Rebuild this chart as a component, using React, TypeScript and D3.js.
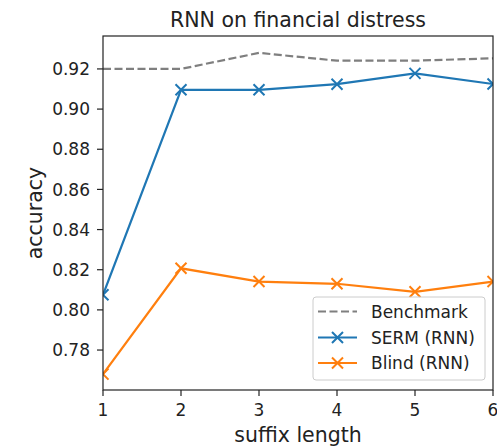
import React from "react";
import * as d3 from "d3";

const suffixLengths = [1, 2, 3, 4, 5, 6];
const benchmark = [0.92, 0.92, 0.928, 0.9241, 0.9241, 0.9253];
const serm = [0.8075, 0.9096, 0.9096, 0.9124, 0.9178, 0.9125];
const blind = [0.768, 0.8207, 0.8141, 0.813, 0.809, 0.8141];
const yTicks = [0.78, 0.8, 0.82, 0.84, 0.86, 0.88, 0.9, 0.92];

const W = 497, H = 447;
const L = 103, R = 493, T = 36, B = 390;
const FONT = "DejaVu Sans, sans-serif";

export default function App() {
  const x = d3.scaleLinear().domain([1, 6]).range([L, R]);
  const y = d3.scaleLinear().domain([0.7601, 0.9364]).range([B, T]);
  const line = d3.line<number>().x((_, i) => x(suffixLengths[i])).y((d) => y(d));
  const cross = (cx: number, cy: number, c: string, k: string) => (
    <path key={k} d={`M${cx - 5.5},${cy - 5.5}L${cx + 5.5},${cy + 5.5}M${cx - 5.5},${cy + 5.5}L${cx + 5.5},${cy - 5.5}`} stroke={c} strokeWidth={2} fill="none" />
  );
  const blue = "#1f77b4", orange = "#ff7f0e", gray = "#7f7f7f";
  return (
    <svg width={W} height={H} style={{ position: "absolute", left: 0, top: 0 }} fontFamily={FONT}>
      <rect width={W} height={H} fill="#fff" />
      <defs>
        <clipPath id="clip"><rect x={L} y={T} width={R - L} height={B - T} /></clipPath>
      </defs>
      <g clipPath="url(#clip)">
        <path d={line(benchmark) || ""} stroke={gray} strokeWidth={2.2} strokeDasharray="8,3.5" fill="none" />
        <path d={line(serm) || ""} stroke={blue} strokeWidth={2.2} fill="none" />
        {serm.map((v, i) => cross(x(suffixLengths[i]), y(v), blue, "s" + i))}
        <path d={line(blind) || ""} stroke={orange} strokeWidth={2.2} fill="none" />
        {blind.map((v, i) => cross(x(suffixLengths[i]), y(v), orange, "b" + i))}
      </g>
      <rect x={L} y={T} width={R - L} height={B - T} fill="none" stroke="#222" strokeWidth={1.2} />
      {yTicks.map((t) => (
        <g key={t}>
          <line x1={L - 6} x2={L} y1={y(t)} y2={y(t)} stroke="#222" strokeWidth={1.2} />
          <text x={L - 13} y={y(t)} dy="0.36em" textAnchor="end" fontSize={17} fill="#222">{t.toFixed(2)}</text>
        </g>
      ))}
      {suffixLengths.map((t) => (
        <g key={t}>
          <line x1={x(t)} x2={x(t)} y1={B} y2={B + 6} stroke="#222" strokeWidth={1.2} />
          <text x={x(t)} y={B + 26} textAnchor="middle" fontSize={17} fill="#222">{t}</text>
        </g>
      ))}
      <text x={298} y={27} textAnchor="middle" fontSize={20.5} fill="#222">RNN on financial distress</text>
      <text x={298} y={441.5} textAnchor="middle" fontSize={20.5} fill="#222">suffix length</text>
      <text transform={`translate(42,${(T + B) / 2}) rotate(-90)`} textAnchor="middle" fontSize={20.5} fill="#222">accuracy</text>
      <g>
        <rect x={313} y={297} width={172} height={83} rx={3} fill="#fff" fillOpacity={0.8} stroke="#ccc" />
        <line x1={318} x2={357} y1={311.5} y2={311.5} stroke={gray} strokeWidth={2.2} strokeDasharray="8,3.5" />
        <text x={371} y={311.5} dy="0.36em" fontSize={17} fill="#222">Benchmark</text>
        <line x1={318} x2={357} y1={337.5} y2={337.5} stroke={blue} strokeWidth={2.2} />
        {cross(337.5, 337.5, blue, "lb")}
        <text x={371} y={337.5} dy="0.36em" fontSize={17} fill="#222">SERM (RNN)</text>
        <line x1={318} x2={357} y1={363} y2={363} stroke={orange} strokeWidth={2.2} />
        {cross(337.5, 363, orange, "lo")}
        <text x={371} y={363} dy="0.36em" fontSize={17} fill="#222">Blind (RNN)</text>
      </g>
    </svg>
  );
}
